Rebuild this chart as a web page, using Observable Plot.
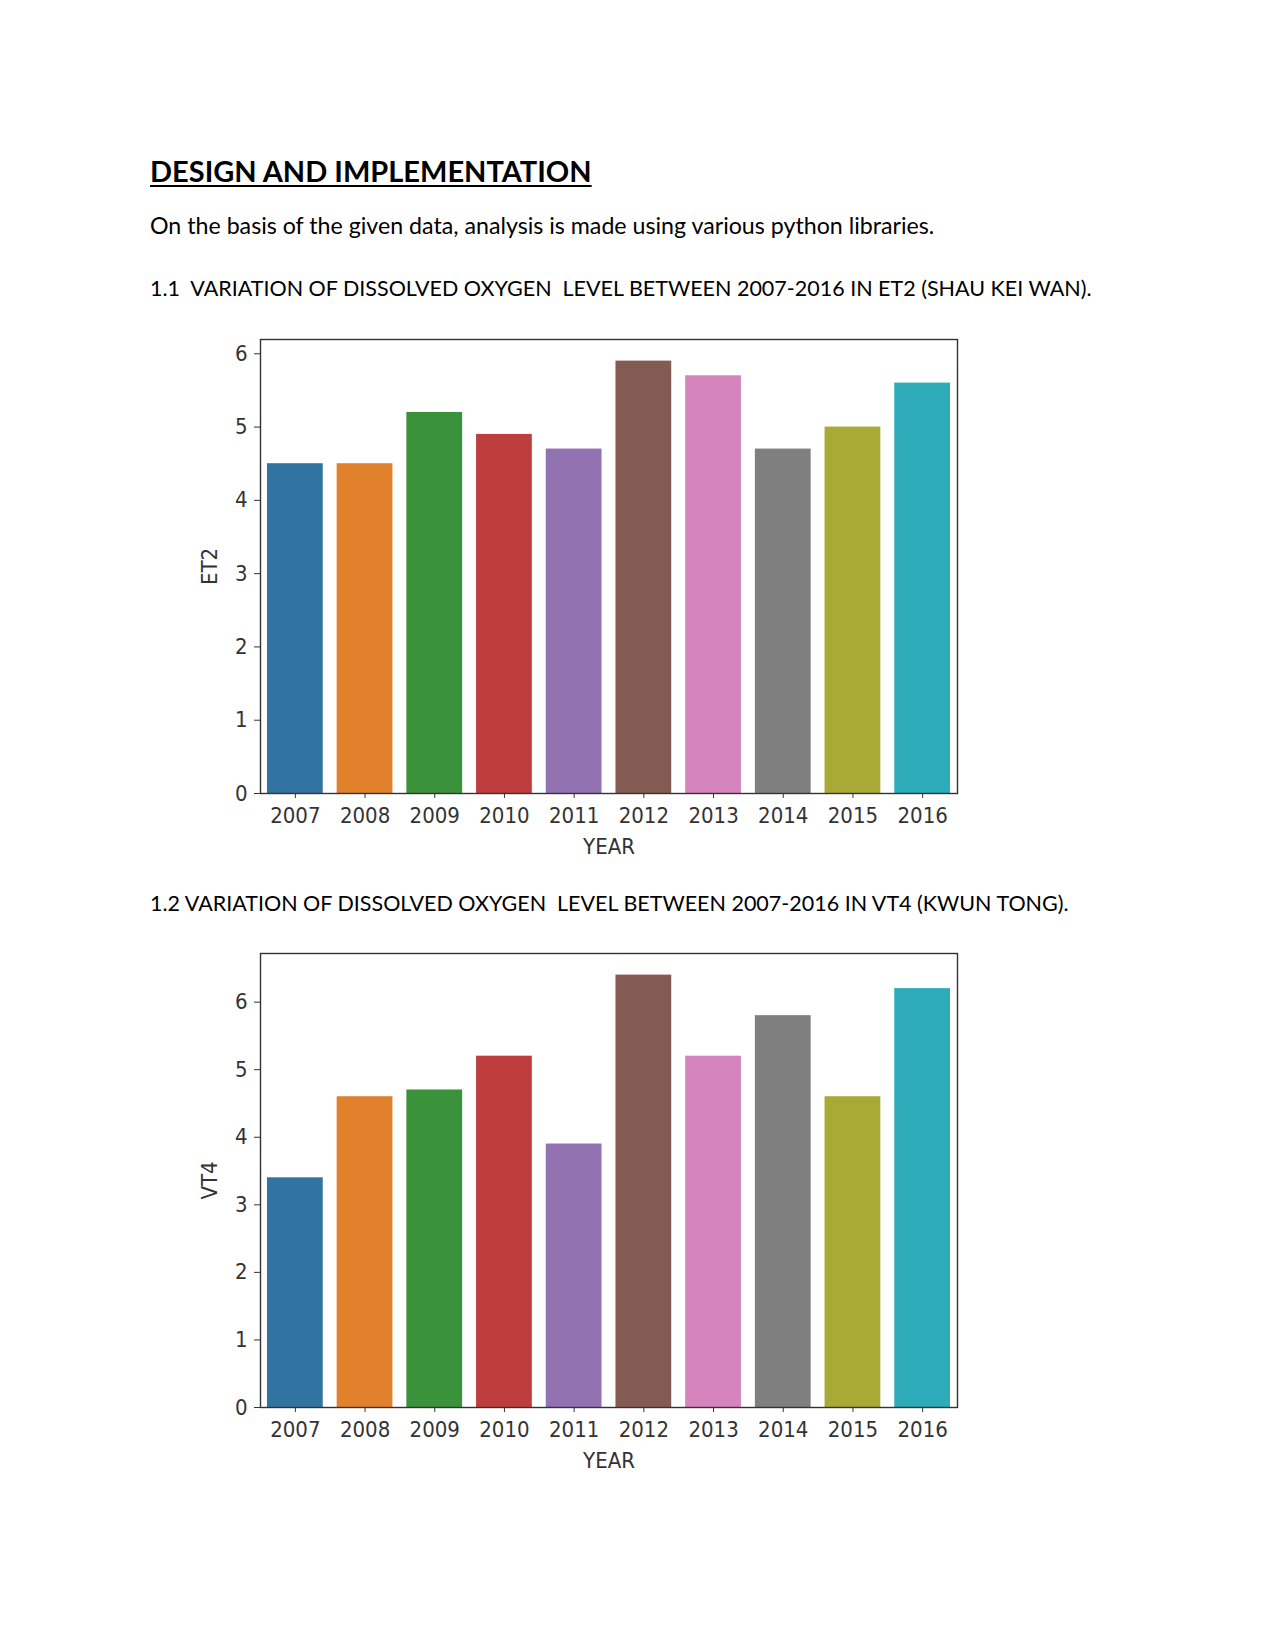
<!DOCTYPE html>
<html><head><meta charset="utf-8">
<script src="https://cdn.jsdelivr.net/npm/d3@7"></script>
<script src="https://cdn.jsdelivr.net/npm/@observablehq/plot@0.6"></script>
<style>
body{margin:0;background:#fff;width:1275px;height:1651px;position:relative;font-family:Lato,"Open Sans",sans-serif;color:#000;overflow:hidden;}
.t{position:absolute;left:150px;white-space:nowrap;line-height:1;}
#h{font-weight:bold;font-size:29px;text-decoration:underline;text-decoration-thickness:2px;text-underline-offset:3px;}
.b{font-size:23.2px;}
.s{font-size:21.5px;}
.chart{position:absolute;left:180px;}
</style></head><body>
<div class="t" id="h" style="top:156px">DESIGN AND IMPLEMENTATION</div>
<div class="t b" style="top:214px">On the basis of the given data, analysis is made using various python libraries.</div>
<div class="t s" style="top:278px">1.1&nbsp; VARIATION OF DISSOLVED OXYGEN&nbsp; LEVEL BETWEEN 2007-2016 IN ET2 (SHAU KEI WAN).</div>
<div class="chart" id="c1" style="top:325px"></div>
<div class="t s" style="top:893px">1.2 VARIATION OF DISSOLVED OXYGEN&nbsp; LEVEL BETWEEN 2007-2016 IN VT4 (KWUN TONG).</div>
<div class="chart" id="c2" style="top:939px"></div>
<script>
const years = ["2007","2008","2009","2010","2011","2012","2013","2014","2015","2016"];
const et2 = [4.5, 4.5, 5.2, 4.9, 4.7, 5.9, 5.7, 4.7, 5.0, 5.6];
const vt4 = [3.4, 4.6, 4.7, 5.2, 3.9, 6.4, 5.2, 5.8, 4.6, 6.2];
const yTicks = [0, 1, 2, 3, 4, 5, 6];
const palette = ["#3274a1","#e1812c","#3a923a","#c03d3e","#9372b2","#845b53","#d684bd","#7f7f7f","#a9aa35","#2eabb8"];
const xLabel = "YEAR";

function chart(values, label) {
  const data = years.map((y, i) => ({year: y, value: values[i]}));
  return Plot.plot({
    width: 800, height: 545,
    marginLeft: 80, marginRight: 23, marginTop: 14, marginBottom: 77,
    style: {fontFamily: '"DejaVu Sans Condensed","DejaVu Sans",sans-serif', fontSize: "22px", color: "#333", background: "transparent", overflow: "visible"},
    x: {type: "band", domain: years, paddingInner: 0.2, paddingOuter: 0.1, round: false, label: null},
    y: {domain: [0, d3.max(values) * 1.05], label: null},
    color: {domain: years, range: palette},
    marks: [
      Plot.barY(data, {x: "year", y: "value", fill: "year"}),
      Plot.axisX({tickSize: 5, tickPadding: 9, fontSize: 22, label: null}),
      Plot.axisY({ticks: yTicks, tickFormat: "d", tickSize: 6, tickPadding: 7, fontSize: 22, label: null}),
      Plot.frame({stroke: "#333", strokeWidth: 1.4}),
      Plot.text([xLabel], {frameAnchor: "bottom", dy: 60, lineAnchor: "bottom", fontSize: 22, fill: "#333"}),
      Plot.text([label], {frameAnchor: "left", textAnchor: "middle", dx: -51, rotate: -90, fontSize: 22, fill: "#333"})
    ]
  });
}
document.getElementById("c1").append(chart(et2, "ET2"));
document.getElementById("c2").append(chart(vt4, "VT4"));
</script>
</body></html>
